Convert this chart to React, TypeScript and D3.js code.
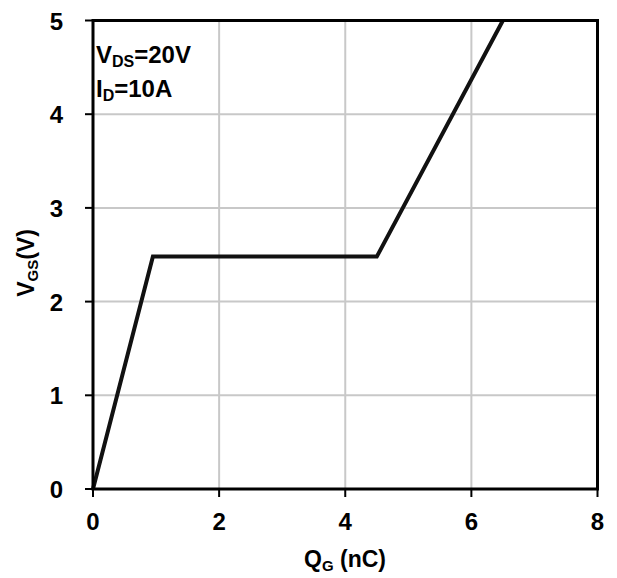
import React from "react";
import * as d3 from "d3";

const qg = [0, 0.95, 4.5, 6.5];
const vgs = [0, 2.48, 2.48, 5];
const xTicks = [0, 2, 4, 6, 8];
const yTicks = [0, 1, 2, 3, 4, 5];

const W = 617, H = 578;
const L = 93, R = 597.5, T = 20.5, B = 489;
const FONT = "'Liberation Sans', Arial, sans-serif";

export default function App() {
  const x = d3.scaleLinear().domain([0, 8]).range([L, R]);
  const y = d3.scaleLinear().domain([0, 5]).range([B, T]);
  const line = d3.line<number>().x((_, i) => x(qg[i])).y((d) => y(d));
  return (
    <svg width={W} height={H} style={{ position: "absolute", left: 0, top: 0, background: "#fff" }} fontFamily={FONT}>
      {xTicks.slice(1, -1).map((t) => (
        <line key={"gx" + t} x1={x(t)} x2={x(t)} y1={T} y2={B} stroke="#c8c8c8" strokeWidth={2} />
      ))}
      {yTicks.slice(1, -1).map((t) => (
        <line key={"gy" + t} x1={L} x2={R} y1={y(t)} y2={y(t)} stroke="#c8c8c8" strokeWidth={2} />
      ))}
      <path d={line(vgs) || ""} fill="none" stroke="#111" strokeWidth={4} strokeLinejoin="miter" />
      <rect x={L} y={T} width={R - L} height={B - T} fill="none" stroke="#000" strokeWidth={3} />
      {xTicks.map((t) => (
        <g key={"xt" + t}>
          <line x1={x(t)} x2={x(t)} y1={B} y2={B + 8} stroke="#000" strokeWidth={2} />
          <text x={x(t)} y={530} textAnchor="middle" fontSize={24} fontWeight="bold">{t}</text>
        </g>
      ))}
      {yTicks.map((t) => (
        <g key={"yt" + t}>
          <line x1={L - 8} x2={L} y1={y(t)} y2={y(t)} stroke="#000" strokeWidth={2} />
          <text x={63} y={y(t) + 9} textAnchor="end" fontSize={24} fontWeight="bold">{t}</text>
        </g>
      ))}
      <text x={345} y={567} textAnchor="middle" fontSize={23} fontWeight="bold">
        Q<tspan fontSize={15} dy={4}>G</tspan><tspan dy={-4}> (nC)</tspan>
      </text>
      <text transform={`translate(34,263) rotate(-90)`} textAnchor="middle" fontSize={23} fontWeight="bold">
        V<tspan fontSize={15} dy={4}>GS</tspan><tspan dy={-4}>(V)</tspan>
      </text>
      <text x={96} y={63} fontSize={24} fontWeight="bold">
        V<tspan fontSize={16} dy={4}>DS</tspan><tspan dy={-4}>=20V</tspan>
      </text>
      <text x={96} y={97} fontSize={24} fontWeight="bold">
        I<tspan fontSize={16} dy={4}>D</tspan><tspan dy={-4}>=10A</tspan>
      </text>
    </svg>
  );
}
